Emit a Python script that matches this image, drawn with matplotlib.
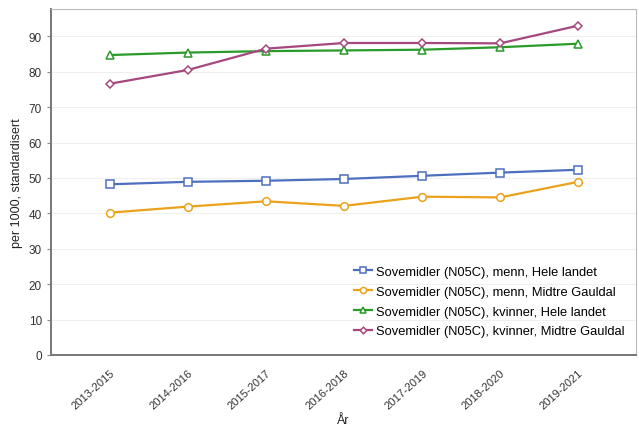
import matplotlib
matplotlib.use("Agg")
import matplotlib.pyplot as plt

plt.rcParams['font.family'] = ['Liberation Sans', 'DejaVu Sans']

years = ["2013-2015", "2014-2016", "2015-2017", "2016-2018", "2017-2019", "2018-2020", "2019-2021"]
menn_hele = [48.2, 48.9, 49.2, 49.7, 50.6, 51.5, 52.3]
menn_midtre = [40.2, 41.9, 43.4, 42.1, 44.7, 44.5, 48.9]
kvinner_hele = [84.7, 85.4, 85.8, 86.0, 86.2, 86.9, 87.9]
kvinner_midtre = [76.6, 80.5, 86.5, 88.1, 88.1, 88.0, 93.0]

series = [
    ("Sovemidler (N05C), menn, Hele landet", menn_hele, "#4e6fc0", "s"),
    ("Sovemidler (N05C), menn, Midtre Gauldal", menn_midtre, "#eaa21a", "o"),
    ("Sovemidler (N05C), kvinner, Hele landet", kvinner_hele, "#2a9a2a", "^"),
    ("Sovemidler (N05C), kvinner, Midtre Gauldal", kvinner_midtre, "#a5487f", "D"),
]

fig = plt.figure(figsize=(6.39, 4.27), dpi=100)
ax = fig.add_axes([0.0798, 0.1663, 0.9155, 0.8103])

x = list(range(len(years)))
for label, vals, col, mk in series:
    ms = 5.5 if mk != "D" else 4.2
    ax.plot(x, vals, color=col, lw=1.6, marker=mk, ms=ms,
            mfc="white", mec=col, mew=1.1, label=label)

ax.set_xlim(-0.756, 6.74)
ax.set_ylim(0, 97.7)
ax.set_yticks(range(0, 100, 10))
ax.set_xticks(x)
ax.set_xticklabels(years, rotation=42, ha="right", rotation_mode="anchor", fontsize=8, color="#333333")
ax.tick_params(axis="y", labelsize=8.5, colors="#333333", length=3, color="#888888")
ax.tick_params(axis="x", length=0, pad=9)
ax.grid(axis="y", color="#f0f0f0", lw=0.8)
ax.set_axisbelow(True)

for s in ("top", "right"):
    ax.spines[s].set_color("#bbbbbb")
    ax.spines[s].set_linewidth(0.8)
for s in ("left", "bottom"):
    ax.spines[s].set_color("#777777")
    ax.spines[s].set_linewidth(1.4)

ax.set_ylabel("per 1000, standardisert", fontsize=9, color="#222222")
ax.set_xlabel("År", fontsize=9, color="#222222")
ax.xaxis.set_label_coords(0.5, -0.17)

ax.legend(loc="lower right", frameon=False, fontsize=9.3, handlelength=1.4,
          handletextpad=0.3, labelspacing=0.6, markerscale=0.8,
          bbox_to_anchor=(0.995, 0.025), borderaxespad=0.3)

fig.savefig("out.png", dpi=100)
